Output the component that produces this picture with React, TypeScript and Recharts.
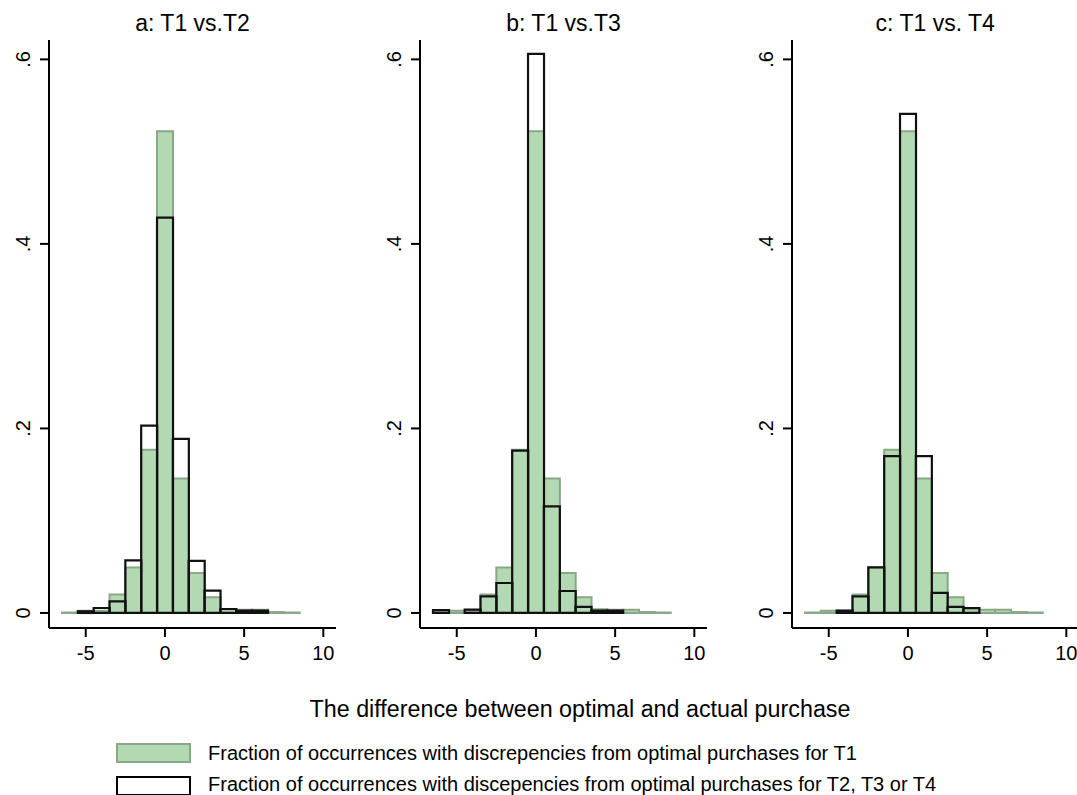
import { ComposedChart, XAxis, YAxis, Bar } from 'recharts';

// histogram bins (bar centres) and the fractions
const bins = [-6, -5, -4, -3, -2, -1, 0, 1, 2, 3, 4, 5, 6, 7, 8];
const t1 = [0.0005, 0.0025, 0.0025, 0.02, 0.0494, 0.177, 0.522, 0.1456, 0.0433, 0.0169, 0.004, 0.0036, 0.0036, 0.001, 0.0005];
const t2 = [0, 0.0018, 0.0054, 0.0126, 0.057, 0.203, 0.4285, 0.1886, 0.0564, 0.0242, 0.0043, 0.0025, 0.0025, 0, 0];
const t3 = [0.003, 0, 0.0036, 0.018, 0.0325, 0.176, 0.606, 0.1156, 0.0238, 0.0065, 0.0025, 0.0025, 0, 0, 0];
const t4 = [0, 0, 0.0025, 0.018, 0.0494, 0.17, 0.541, 0.17, 0.0217, 0.0065, 0.0054, 0, 0, 0, 0];

const panelTitles = ['a: T1 vs.T2', 'b: T1 vs.T3', 'c: T1 vs. T4'];
const xTicks = [-5, 0, 5, 10];
const yTicks = [0, 0.2, 0.4, 0.6];
const xTitle = 'The difference between optimal and actual purchase';
const legendLabels = [
  'Fraction of occurrences with discrepencies from optimal purchases for T1',
  'Fraction of occurrences with discepencies from optimal purchases for T2, T3 or T4',
];

const FONT = '"Liberation Sans", Arial, Helvetica, sans-serif';
const green = '#b3d9b2';
const greenEdge = '#88a888';
const xDomain = [-7.32, 10.8];
const yDomain = [-0.0163, 0.621];

const fmtY = (v: number) => (v === 0 ? '0' : v.toFixed(1).replace(/^0/, ''));

function YTick(props: any) {
  const { x, y, payload } = props;
  return (
    <text x={x} y={y} transform={`rotate(-90 ${x} ${y})`} textAnchor="middle" fontSize={20} fontFamily={FONT} fill="#000">
      {fmtY(payload.value)}
    </text>
  );
}

function Panel({ left, other }: { left: number; other: number[] }) {
  const data = bins.map((b, i) => ({ x: b, t1: t1[i], other: other[i] }));
  const axisStyle = { stroke: '#000', strokeWidth: 2 };
  return (
    <div style={{ position: 'absolute', left, top: 0 }}>
      <ComposedChart width={342} height={678} data={data} margin={{ top: 40, right: 6, bottom: 0, left: 0 }} barCategoryGap={0} barGap={0}>
        <XAxis
          xAxisId="main"
          dataKey="x"
          type="number"
          domain={xDomain}
          allowDataOverflow
          ticks={xTicks}
          height={50}
          tickSize={9}
          tickMargin={9}
          axisLine={axisStyle}
          tickLine={axisStyle}
          tick={{ fontSize: 20, fontFamily: FONT, fill: '#000' }}
        />
        <XAxis xAxisId="over" dataKey="x" type="number" domain={xDomain} allowDataOverflow hide />
        <YAxis
          type="number"
          domain={yDomain}
          allowDataOverflow
          ticks={yTicks}
          width={49}
          tickSize={9}
          tickMargin={10}
          axisLine={axisStyle}
          tickLine={axisStyle}
          tick={<YTick />}
        />
        <Bar xAxisId="main" dataKey="t1" fill={green} stroke={greenEdge} strokeWidth={2} isAnimationActive={false} />
        <Bar xAxisId="over" dataKey="other" fill="none" stroke="#111" strokeWidth={2.2} isAnimationActive={false} />
      </ComposedChart>
    </div>
  );
}

export default function App() {
  const lefts = [0, 371, 742.7];
  const others = [t2, t3, t4];
  return (
    <div style={{ position: 'fixed', left: 0, top: 0, width: 1077, height: 795, overflow: 'hidden', background: '#fff' }}>
      {lefts.map((l, i) => (
        <Panel key={i} left={l} other={others[i]} />
      ))}
      <svg width={1077} height={795} style={{ position: 'absolute', left: 0, top: 0, pointerEvents: 'none' }} fontFamily={FONT}>
        {panelTitles.map((t, i) => (
          <text key={t} x={lefts[i] + 49 + 143.5} y={31} textAnchor="middle" fontSize={23} fill="#000">
            {t}
          </text>
        ))}
        <text x={580} y={717} textAnchor="middle" fontSize={23.3} fill="#000">
          {xTitle}
        </text>
        <rect x={117} y={744} width={73} height={18} fill={green} stroke={greenEdge} strokeWidth={2} />
        <text x={208} y={760} fontSize={20} fill="#000">
          {legendLabels[0]}
        </text>
        <rect x={117} y={777} width={73} height={18} fill="#fff" stroke="#000" strokeWidth={2} />
        <text x={208} y={791} fontSize={20} fill="#000">
          {legendLabels[1]}
        </text>
      </svg>
    </div>
  );
}
